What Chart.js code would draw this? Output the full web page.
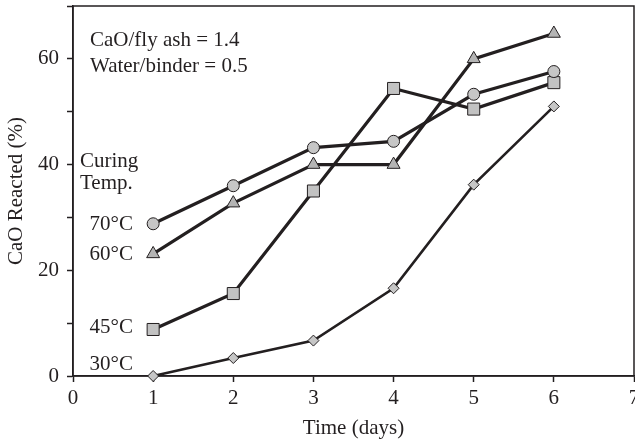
<!DOCTYPE html>
<html>
<head>
<meta charset="utf-8">
<script src="https://cdn.jsdelivr.net/npm/chart.js@4"></script>
<style>
html,body{margin:0;padding:0;background:#fff;}
#wrap{width:635px;height:443px;position:relative;}
</style>
</head>
<body>
<div id="wrap"><canvas id="c" width="635" height="443"></canvas></div>
<script>
const days = [1, 2, 3, 4, 5, 6];
const temp70 = [28.8, 36.0, 43.2, 44.4, 53.3, 57.6];
const temp60 = [23.1, 32.7, 40.0, 40.0, 60.0, 64.8];
const temp45 = [8.8, 15.6, 35.0, 54.4, 50.5, 55.5];
const temp30 = [0.0, 3.4, 6.7, 16.6, 36.2, 51.0];
const seriesLabels = ['70°C', '60°C', '45°C', '30°C'];
const noteLines = ['CaO/fly ash = 1.4', 'Water/binder = 0.5'];
const curingLines = ['Curing', 'Temp.'];
const xTitle = 'Time (days)';
const yTitle = 'CaO Reacted (%)';

const INK = '#231f20';
const FONT = '"Liberation Serif", "DejaVu Serif", serif';
const FS = 21;

function pts(vals){ return days.map((d,i)=>({x:d,y:vals[i]})); }

function ds(label, vals, style, radius, fill, lw){
  return {
    label, data: pts(vals),
    borderColor: INK, borderWidth: lw,
    pointStyle: style, pointRadius: radius, pointHoverRadius: radius,
    pointBackgroundColor: fill, pointBorderColor: INK, pointBorderWidth: 1,
    tension: 0, fill: false, clip: false
  };
}

const annot = {
  id: 'annot',
  beforeDatasetsDraw(chart){
    const {ctx, chartArea:a} = chart;
    ctx.save();
    ctx.strokeStyle = INK; ctx.lineWidth = 1.5;
    ctx.strokeRect(a.left, a.top, a.right - a.left, a.bottom - a.top);
    ctx.restore();
  },
  afterDraw(chart){
    const ctx = chart.ctx;
    ctx.save();
    ctx.fillStyle = INK;
    ctx.font = FS + 'px ' + FONT;
    ctx.textBaseline = 'alphabetic';
    ctx.textAlign = 'left';
    ctx.fillText(noteLines[0], 90, 46);
    ctx.fillText(noteLines[1], 90, 72);
    ctx.fillText(curingLines[0], 80, 167);
    ctx.fillText(curingLines[1], 80, 189);
    ctx.textAlign = 'right';
    const ys = [230, 260, 333, 370];
    seriesLabels.forEach((t,i)=>ctx.fillText(t, 133, ys[i]));
    ctx.restore();
  }
};

new Chart(document.getElementById('c'), {
  type: 'line',
  data: {
    datasets: [
      ds('70°C', temp70, 'circle', 6, '#c6c6c6', 3.2),
      ds('60°C', temp60, 'triangle', 7.5, '#b4b4b4', 3.2),
      ds('45°C', temp45, 'rect', 8.5, '#c2c2c2', 3.2),
      ds('30°C', temp30, 'rectRot', 5.5, '#c6c6c6', 2.6)
    ]
  },
  options: {
    responsive: false,
    animation: false,
    events: [],
    layout: { autoPadding: false, padding: { top: 6, right: 1, left: 0, bottom: 0 } },
    plugins: { legend: { display: false }, tooltip: { enabled: false } },
    scales: {
      x: {
        type: 'linear', min: 0, max: 7,
        ticks: { stepSize: 1, color: INK, font: { family: FONT, size: FS }, padding: 4, maxRotation: 0 },
        grid: { drawOnChartArea: false, drawTicks: true, tickLength: 6, color: INK, tickWidth: 1.5 },
        border: { display: true, color: INK, width: 1.5 },
        title: { display: true, text: xTitle, color: INK, font: { family: FONT, size: FS }, padding: { top: 0, bottom: 2 } },
        afterFit(s){ s.height = 67; s.paddingLeft = 0; s.paddingRight = 0; }
      },
      y: {
        type: 'linear', min: 0, max: 70,
        ticks: { stepSize: 10, color: INK, font: { family: FONT, size: FS }, padding: 8,
          callback: v => (v % 20 === 0 && v <= 60) ? String(v) : '' },
        grid: { drawOnChartArea: false, drawTicks: true, tickLength: 6, color: INK, tickWidth: 1.5 },
        border: { display: true, color: INK, width: 1.5 },
        title: { display: true, text: yTitle, color: INK, font: { family: FONT, size: FS }, padding: { top: 4, bottom: 0 } },
        afterFit(s){ s.width = 73; s.paddingTop = 0; s.paddingBottom = 0; }
      }
    }
  },
  plugins: [annot]
});
</script>
</body>
</html>
